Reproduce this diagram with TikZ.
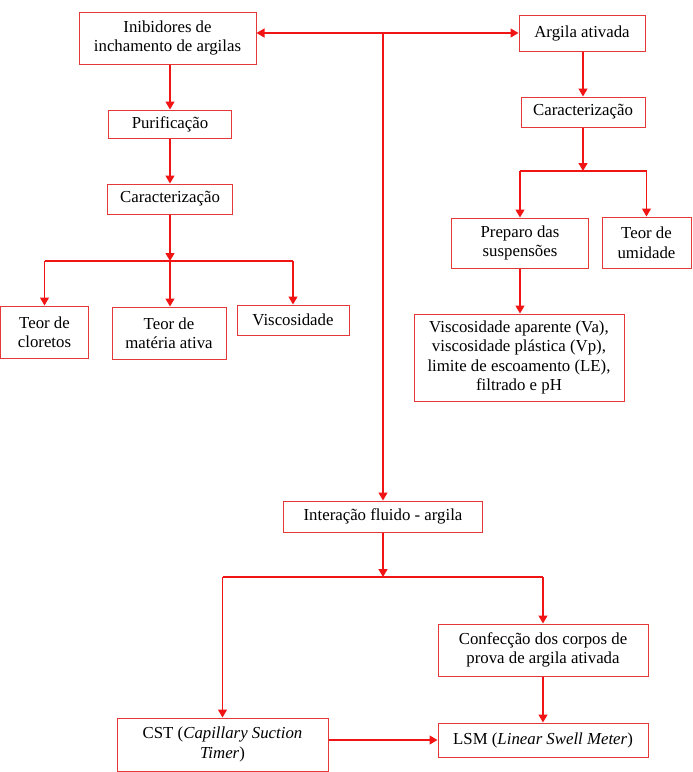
\documentclass[tikz,border=0pt]{standalone}
\usepackage{fontspec}
\setmainfont{Liberation Serif}
\usetikzlibrary{arrows.meta,calc}
\definecolor{linered}{RGB}{240,20,20}
\definecolor{boxred}{RGB}{228,55,55}
\begin{document}
\begin{tikzpicture}[x=1pt,y=-1pt,
  box/.style={draw=boxred,line width=1pt,inner sep=0pt,align=center,
    font=\fontsize{16.8}{19.5}\selectfont},
  conn/.style={draw=linered,line width=1.3pt},
  arr/.style={conn,-{Triangle[length=8pt,width=9pt]}},
  darr/.style={conn,{Triangle[length=8pt,width=9pt]}-{Triangle[length=8pt,width=9pt]}}]
\useasboundingbox (0,0) rectangle (693,772);
% left column
\node[box,minimum width=177pt,minimum height=52pt] (inib) at (167.5,38) {Inibidores de\\inchamento de argilas};
\node[box,minimum width=123pt,minimum height=28pt] (purif) at (170,124) {Purificação};
\node[box,minimum width=125pt,minimum height=30pt] (carL) at (170,199) {Caracterização};
\node[box,minimum width=88pt,minimum height=52pt] (clor) at (44.5,332) {Teor de\\cloretos};
\node[box,minimum width=114pt,minimum height=52pt] (mat) at (169,333) {Teor de\\matéria ativa};
\node[box,minimum width=112pt,minimum height=30pt] (visc) at (293,320) {Viscosidade};
% right column
\node[box,minimum width=126pt,minimum height=36pt] (arg) at (582,33) {Argila ativada};
\node[box,minimum width=124pt,minimum height=30pt] (carR) at (583,112) {Caracterização};
\node[box,minimum width=137pt,minimum height=50pt] (prep) at (520,243) {Preparo das\\suspensões};
\node[box,minimum width=89pt,minimum height=51pt] (umid) at (646.5,242.5) {Teor de\\umidade};
\node[box,minimum width=210pt,minimum height=87pt] (viscA) at (519,357.5) {Viscosidade aparente (Va),\\viscosidade plástica (Vp),\\limite de escoamento (LE),\\filtrado e pH};
% bottom
\node[box,minimum width=199pt,minimum height=31pt] (inter) at (383,516.5) {Interação fluido - argila};
\node[box,minimum width=210pt,minimum height=52pt] (conf) at (543,650) {Confecção dos corpos de\\prova de argila ativada};
\node[box,minimum width=211pt,minimum height=53pt] (cst) at (222.5,744.5) {CST (\textit{Capillary Suction}\\\textit{Timer})};
\node[box,minimum width=210pt,minimum height=34pt] (lsm) at (543,740) {LSM (\textit{Linear Swell Meter})};
% junctions
\coordinate (jL) at (170,261);
\coordinate (jR) at (583,171);
\coordinate (jB) at (383,577);
\coordinate (jT) at (383,33);
% connectors left
\draw[arr] (inib.south -| purif.north) -- (purif.north);
\draw[arr] (purif) -- (carL);
\draw[arr] (carL.south) -- (jL);
\draw[conn] (clor.north |- jL) -- (visc.north |- jL);
\draw[arr] (clor.north |- jL) -- (clor.north);
\draw[arr] (jL) -- (mat.north -| jL);
\draw[arr] (visc.north |- jL) -- (visc.north);
% top link
\draw[darr] (inib.east |- arg.west) -- (arg.west);
\draw[arr] (jT) -- (inter.north);
% right
\draw[arr] (arg.south -| carR.north) -- (carR.north);
\draw[arr] (carR.south) -- (jR);
\draw[conn] (prep.north |- jR) -- (umid.north |- jR);
\draw[arr] (prep.north |- jR) -- (prep.north);
\draw[arr] (umid.north |- jR) -- (umid.north);
\draw[arr] (prep.south) -- (prep.south |- viscA.north);
% bottom
\draw[arr] (inter.south) -- (jB);
\draw[conn] (cst.north |- jB) -- (conf.north |- jB);
\draw[arr] (cst.north |- jB) -- (cst.north);
\draw[arr] (conf.north |- jB) -- (conf.north);
\draw[arr] (conf) -- (lsm);
\draw[arr] (cst.east |- lsm.west) -- (lsm.west);
\end{tikzpicture}
\end{document}
